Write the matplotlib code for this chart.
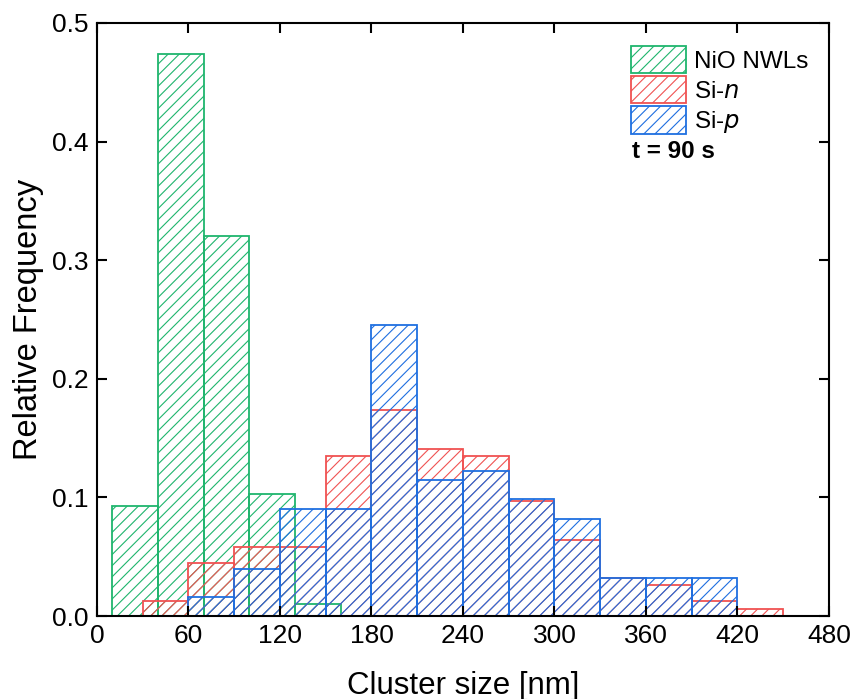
import matplotlib
matplotlib.use("Agg")
import matplotlib.pyplot as plt
from matplotlib.patches import Patch

plt.rcParams['hatch.linewidth'] = 0.8

bin_width = 30
nio_left = [10, 40, 70, 100, 130]
nio_freq = [0.093, 0.474, 0.320, 0.103, 0.010]

sin_left = [30, 60, 90, 120, 150, 180, 210, 240, 270, 300, 330, 360, 390, 420]
sin_freq = [0.013, 0.045, 0.058, 0.058, 0.135, 0.174, 0.141, 0.135, 0.097, 0.064, 0.032, 0.026, 0.013, 0.006]

sip_left = [60, 90, 120, 150, 180, 210, 240, 270, 300, 330, 360, 390]
sip_freq = [0.016, 0.040, 0.090, 0.090, 0.245, 0.115, 0.122, 0.099, 0.082, 0.032, 0.032, 0.032]

xticks = [0, 60, 120, 180, 240, 300, 360, 420, 480]
yticks = [0.0, 0.1, 0.2, 0.3, 0.4, 0.5]

green = '#1fb56d'
red = '#f05252'
blue = '#1f6fe0'

plt.rcParams['font.family'] = ['Liberation Sans', 'DejaVu Sans']

fig = plt.figure(figsize=(8.53, 6.99), dpi=100)
ax = fig.add_axes([97/853, 1-616/699, (829-97)/853, (616-23)/699])

def draw(left, freq, color):
    ax.bar(left, freq, width=bin_width, align='edge', fill=False,
           edgecolor=color, hatch='///', linewidth=1.3)

draw(nio_left, nio_freq, green)
draw(sin_left, sin_freq, red)
draw(sip_left, sip_freq, blue)

ax.set_xlim(0, 480)
ax.set_ylim(0, 0.5)
ax.set_xticks(xticks)
ax.set_yticks(yticks)
ax.set_xticklabels([str(v) for v in xticks], fontsize=19)
ax.set_yticklabels([f"{v:.1f}" for v in yticks], fontsize=19)
ax.tick_params(direction='in', top=True, right=True, length=7, width=1.5, pad=6)
for s in ax.spines.values():
    s.set_linewidth(1.5)

ax.set_xlabel('Cluster size [nm]', fontsize=22.5, labelpad=16)
ax.set_ylabel('Relative Frequency', fontsize=23.5, labelpad=6)

handles = [
    Patch(facecolor='none', edgecolor=green, hatch='///', linewidth=1.3, label='NiO NWLs'),
    Patch(facecolor='none', edgecolor=red, hatch='///', linewidth=1.3, label='Si-$\\it{n}$'),
    Patch(facecolor='none', edgecolor=blue, hatch='///', linewidth=1.3, label='Si-$\\it{p}$'),
]
leg = ax.legend(handles=handles, loc='upper left', bbox_to_anchor=(631/853, 1-46/699),
          bbox_transform=fig.transFigure, frameon=False,
          fontsize=17.5, handlelength=2.25, handleheight=1.35, handletextpad=0.35,
          labelspacing=0.12, borderaxespad=0, borderpad=0)
fig.text(632/853, 1-152/699, 't = 90 s', fontsize=17.5, fontweight='bold',
         ha='left', va='center')

fig.savefig('out.png', dpi=100)
